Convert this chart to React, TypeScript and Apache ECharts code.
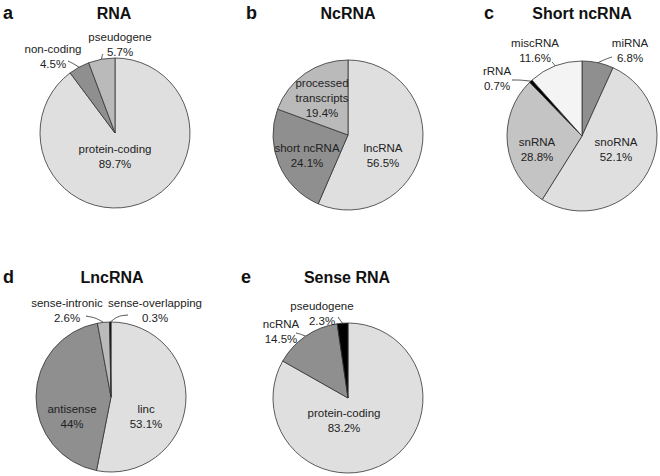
import React, { useEffect, useRef } from 'react';
import * as echarts from 'echarts';

// ---- data ----
const rnaNames = ['protein-coding', 'non-coding', 'pseudogene'];
const rnaValues = [89.7, 4.5, 5.7];
const ncNames = ['lncRNA', 'short ncRNA', 'processed\ntranscripts'];
const ncValues = [56.5, 24.1, 19.4];
const shortNames = ['miRNA', 'snoRNA', 'snRNA', 'rRNA', 'miscRNA'];
const shortValues = [6.8, 52.1, 28.8, 0.7, 11.6];
const lncNames = ['linc', 'antisense', 'sense-intronic', 'sense-overlapping'];
const lncValues = [53.1, 44, 2.6, 0.3];
const senseNames = ['protein-coding', 'ncRNA', 'pseudogene'];
const senseValues = [83.2, 14.5, 2.3];
const panelTitles = ['RNA', 'NcRNA', 'Short ncRNA', 'LncRNA', 'Sense RNA'];
const panelLetters = ['a', 'b', 'c', 'd', 'e'];

// ---- styles / layout ----
const LIGHT = '#dfdfdf';
const DARK = '#8f8f8f';
const MID = '#bababa';
const FONT = 'Liberation Sans, Arial, Helvetica, sans-serif';
const R = 75;

type Panel = {
  names: string[];
  values: number[];
  colors: string[];
  center: [number, number];
  outside: boolean[];
  labelPos: [number, number][];
  // [mid, end] points of leader lines (for outside labels)
  lines: ([number, number][] | null)[];
  titlePos: [number, number];
  letterPos: [number, number];
};

const panels: Panel[] = [
  {
    names: rnaNames, values: rnaValues, colors: [LIGHT, DARK, MID], center: [115, 133],
    outside: [false, true, true],
    labelPos: [[115, 156], [53, 56], [120, 44]],
    lines: [null, [[74, 64], [68, 61]], [[102, 56], [103, 54]]],
    titlePos: [114, 13], letterPos: [3, 13],
  },
  {
    names: ncNames, values: ncValues, colors: [LIGHT, DARK, MID], center: [348, 135],
    outside: [false, false, false],
    labelPos: [[383, 155], [307, 155], [322, 98]],
    lines: [null, null, null],
    titlePos: [348, 13], letterPos: [246, 13],
  },
  {
    names: shortNames, values: shortValues, colors: [DARK, LIGHT, '#c4c4c4', '#000000', '#f4f4f4'],
    center: [582, 136],
    outside: [true, false, false, true, true],
    labelPos: [[630, 50], [616, 149], [537, 149], [497, 78], [535, 50]],
    lines: [[[606, 59], [612, 57]], null, null, [[520, 80], [512, 80]], [[553, 63], [552, 62]]],
    titlePos: [582, 13], letterPos: [484, 13],
  },
  {
    names: lncNames, values: lncValues, colors: [LIGHT, DARK, MID, '#000000'], center: [111, 397],
    outside: [false, false, true, true],
    labelPos: [[146, 416], [72, 416], [67, 310], [155, 310]],
    lines: [null, null, [[96, 318], [86, 316]], [[118, 316], [128, 315]]],
    titlePos: [112, 277], letterPos: [3, 277],
  },
  {
    names: senseNames, values: senseValues, colors: [LIGHT, DARK, '#000000'], center: [348, 398],
    outside: [false, true, true],
    labelPos: [[344, 420], [281, 331], [322, 313]],
    lines: [null, [[300, 334], [296, 333]], [[340, 320], [338, 317]]],
    titlePos: [347, 277], letterPos: [241, 277],
  },
];

function edgePoint(p: Panel, idx: number): [number, number] {
  const total = p.values.reduce((s, v) => s + v, 0);
  let cum = 0;
  for (let i = 0; i < idx; i++) cum += p.values[i];
  const mid = (cum + p.values[idx] / 2) / total;
  const a = mid * Math.PI * 2;
  return [p.center[0] + R * Math.sin(a), p.center[1] - R * Math.cos(a)];
}

export default function App() {
  const ref = useRef<HTMLDivElement>(null);
  useEffect(() => {
    if (!ref.current) return;
    const chart = echarts.init(ref.current, undefined, { renderer: 'svg' });
    const series = panels.map((p) => ({
      type: 'pie',
      center: p.center,
      radius: R,
      startAngle: 90,
      clockwise: true,
      avoidLabelOverlap: false,
      silent: true,
      itemStyle: { borderColor: '#333', borderWidth: 0.8 },
      label: {
        show: true,
        position: 'inside',
        formatter: '{b}\n{c}%',
        color: '#222',
        fontFamily: FONT,
        fontSize: 11.5,
        lineHeight: 15,
        align: 'center',
        textBorderWidth: 0,
        textBorderColor: 'transparent',
        textShadowBlur: 0,
      },
      labelLine: { show: false },
      labelLayout: (params: any) => {
        const i = params.dataIndex;
        const pos = p.labelPos[i];
        const res: any = { x: pos[0], y: pos[1], align: 'center', verticalAlign: 'middle' };
        const ln = p.lines[i];
        if (ln) {
          res.labelLinePoints = [edgePoint(p, i), ln[0], ln[1]];
        }
        return res;
      },
      data: p.names.map((n, i) => ({
        name: n,
        value: p.values[i],
        itemStyle: { color: p.colors[i] },
        ...(p.outside[i]
          ? {
              label: { position: 'outside' },
              labelLine: {
                show: true, length: 5, length2: 5, smooth: 0.3,
                lineStyle: { color: '#222', width: 0.8 },
              },
            }
          : {}),
      })),
    }));
    const graphic: any[] = [];
    panels.forEach((p, k) => {
      graphic.push({
        type: 'text', x: p.titlePos[0], y: p.titlePos[1],
        style: { text: panelTitles[k], fontFamily: FONT, fontSize: 16, fontWeight: 'bold', fill: '#111', align: 'center', verticalAlign: 'middle' },
      });
      graphic.push({
        type: 'text', x: p.letterPos[0], y: p.letterPos[1],
        style: { text: panelLetters[k], fontFamily: FONT, fontSize: 18, fontWeight: 'bold', fill: '#111', align: 'left', verticalAlign: 'middle' },
      });
    });
    chart.setOption({
      animation: false,
      backgroundColor: '#ffffff',
      series,
      graphic,
    } as any);
    return () => chart.dispose();
  }, []);
  return <div ref={ref} style={{ position: 'fixed', left: 0, top: 0, width: 660, height: 476 }} />;
}
